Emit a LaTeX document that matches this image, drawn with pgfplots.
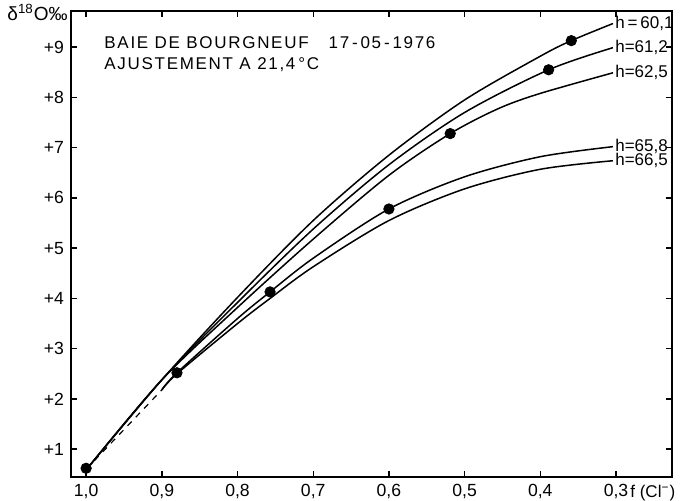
\documentclass[border=0pt]{standalone}
\usepackage{fontspec}
\setmainfont{Liberation Sans}
\newfontfamily\lettering[LetterSpace=10]{Liberation Sans}
\usepackage{pgfplots}
\pgfplotsset{compat=1.18}
\begin{document}
\begin{tikzpicture}[font=\fontsize{8.5}{10.5}\selectfont]
\useasboundingbox (-35.5pt,-11.5pt) rectangle (306.5pt,238.5pt);
\begin{axis}[
  at={(0,0)}, anchor=south west,
  scale only axis, width=300.5pt, height=233pt,
  x dir=reverse, xmin=0.226, xmax=1.02, ymin=0.446, ymax=9.72,
  xtick={1.0,0.9,0.8,0.7,0.6,0.5,0.4,0.3},
  xticklabels={{1,0},{0,9},{0,8},{0,7},{0,6},{0,5},{0,4},{0,3}},
  ytick={1,2,3,4,5,6,7,8,9},
  yticklabels={+1,+2,+3,+4,+5,+6,+7,+8,+9},
  axis line style={line width=0.9pt},
  major tick style={line width=0.7pt, black},
  major tick length=3pt,
  tick label style={font=\fontsize{8.8}{10}\selectfont},
  /pgf/number format/assume math mode=true,
  clip=false,
]
% h = 60,1
\addplot[smooth, line width=0.75pt] coordinates {
 (0.995,0.68) (0.9,2.38) (0.8,4.02) (0.7,5.55) (0.6,6.85) (0.5,7.95)
 (0.4,8.82) (0.359,9.13) (0.304,9.47)};
% h = 61,2
\addplot[smooth, line width=0.75pt] coordinates {
 (0.995,0.68) (0.9,2.38) (0.8,3.92) (0.7,5.38) (0.6,6.66) (0.5,7.7)
 (0.389,8.55) (0.304,8.99)};
% h = 62,5
\addplot[smooth, line width=0.75pt] coordinates {
 (0.995,0.68) (0.9,2.38) (0.8,3.82) (0.7,5.18) (0.6,6.45) (0.519,7.28)
 (0.455,7.78) (0.4,8.08) (0.304,8.49)};
% dashed common start of the two lower curves
\addplot[dashed, line width=0.6pt] coordinates {(1.0,0.6) (0.9,2.18)};
% h = 65,8
\addplot[smooth, line width=0.75pt] coordinates {
 (0.9,2.18) (0.88,2.52) (0.8,3.6) (0.757,4.13) (0.7,4.8) (0.6,5.78)
 (0.5,6.42) (0.4,6.82) (0.304,7.02)};
% h = 66,5
\addplot[smooth, line width=0.75pt] coordinates {
 (0.9,2.18) (0.88,2.5) (0.8,3.5) (0.757,4.0) (0.7,4.63) (0.6,5.55)
 (0.5,6.18) (0.4,6.57) (0.304,6.74)};
% measured points
\addplot[only marks, mark=*, mark size=2.6pt, black] coordinates {
 (1.0,0.62) (0.88,2.52) (0.757,4.13) (0.6,5.78) (0.519,7.28) (0.389,8.55) (0.359,9.13)};
% curve labels
\node[anchor=west, inner sep=1pt] at (axis cs:0.304,9.47) {h\,=\,60,1};
\node[anchor=west, inner sep=1pt] at (axis cs:0.304,8.99) {h=61,2};
\node[anchor=west, inner sep=1pt] at (axis cs:0.304,8.49) {h=62,5};
\node[anchor=west, inner sep=1pt] at (axis cs:0.304,7.02) {h=65,8};
\node[anchor=west, inner sep=1pt] at (axis cs:0.304,6.74) {h=66,5};
% axis titles
\node[anchor=base east, inner sep=0pt, xshift=-1.5pt, yshift=-5pt, font=\fontsize{9.5}{11}\selectfont] at (rel axis cs:0,1) {δ\textsuperscript{18}O‰};
\node[anchor=base west, inner sep=0pt] at (axis cs:0.2815,0.446) [yshift=-10pt] {f (Cl\textsuperscript{−})};
\node[anchor=north west, align=left, inner sep=0pt] at (rel axis cs:0.055,0.946)
 {\lettering BAIE DE BOURGNEUF\hspace{10pt}17\,-\,05\,-\,1976\\\lettering AJUSTEMENT A 21,4\,°C};
\end{axis}
\end{tikzpicture}
\end{document}
